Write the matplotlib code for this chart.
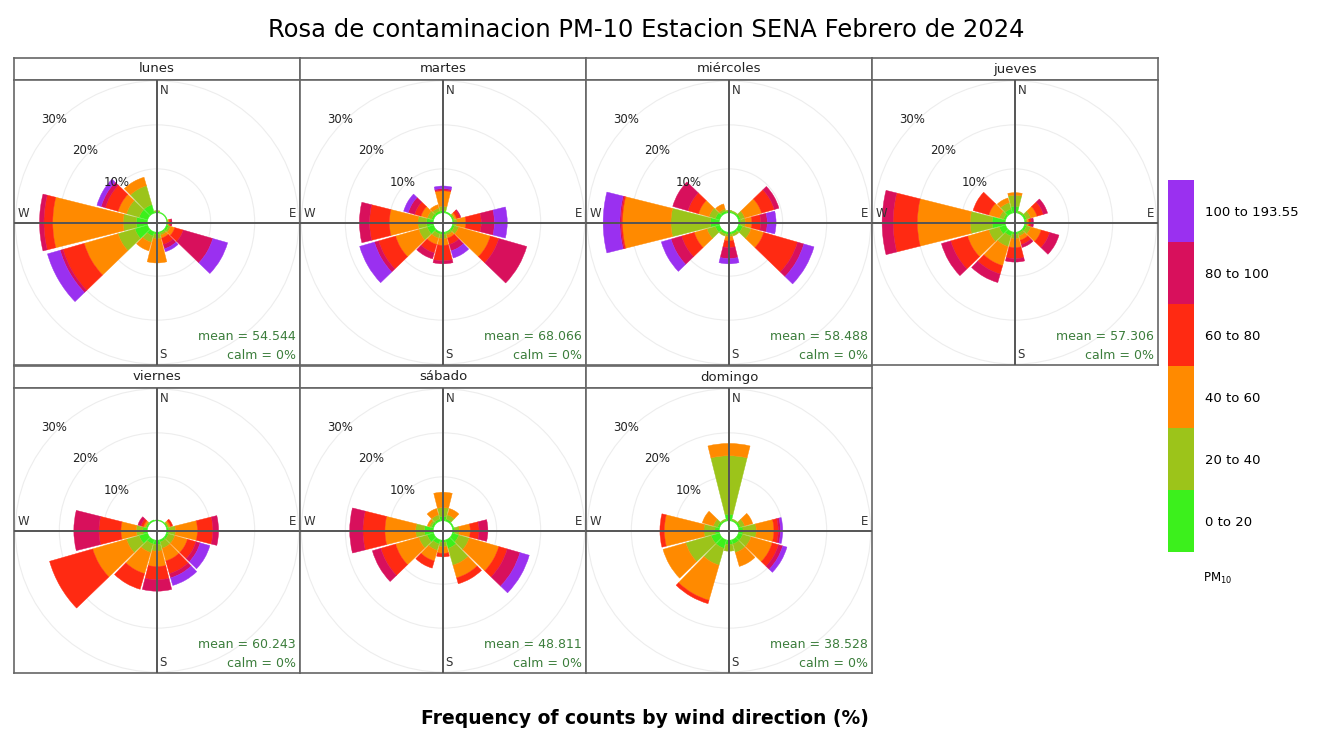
import numpy as np
import matplotlib
matplotlib.use("Agg")
import matplotlib.pyplot as plt
from matplotlib.patches import Wedge, Circle
from matplotlib.colors import ListedColormap, BoundaryNorm
from matplotlib.cm import ScalarMappable

plt.rcParams['font.family'] = ['DejaVu Sans']

titulo = "Rosa de contaminacion PM-10 Estacion SENA Febrero de 2024"
eje_x = "Frequency of counts by wind direction (%)"
dias = ["lunes", "martes", "miércoles", "jueves", "viernes", "sábado", "domingo"]
medias = ["54.544", "68.066", "58.488", "57.306", "60.243", "48.811", "38.528"]
calmas = ["0%", "0%", "0%", "0%", "0%", "0%", "0%"]

# direcciones (grados) y rangos de PM10
sectores = [0, 30, 60, 90, 120, 150, 180, 210, 240, 270, 300, 330]
intervalos = ["0 to 20", "20 to 40", "40 to 60", "60 to 80", "80 to 100", "100 to 193.55"]
colores = ["#3cf01c", "#9cc41a", "#ff8a00", "#ff2a12", "#d8105c", "#9a30f0"]

# frecuencia (%) por sector y rango, filas = sectores
lunes = [
    [0.3, 0.2, 0, 0, 0, 0],
    [0.2, 0, 0, 0, 0, 0],
    [0.2, 0, 0, 0, 0, 0],
    [0.2, 0.2, 0.2, 0.4, 0.2, 0],
    [0.5, 0.5, 1.0, 2.0, 7.0, 3.5],
    [0.3, 0.5, 0.7, 1.5, 1.0, 0.7],
    [0.5, 1.0, 5.5, 0, 0, 0],
    [1.0, 1.5, 2.0, 0, 0, 0],
    [3.0, 4.0, 8.0, 5.0, 0.7, 3.0],
    [2.5, 3.0, 16.0, 2.0, 1.0, 0],
    [2.0, 3.0, 2.0, 3.0, 1.0, 1.0],
    [2.0, 4.5, 2.0, 0, 0, 0],
]
martes = [
    [0.5, 1.0, 3.5, 0.2, 0.3, 0.6],
    [0.3, 0, 0, 0, 0, 0],
    [0.3, 0.3, 0.4, 0.8, 0.2, 0],
    [0.3, 0.7, 2.0, 3.5, 3.0, 2.9],
    [0.5, 1.0, 7.5, 2.0, 6.6, 0],
    [0.3, 0.5, 0.7, 1.5, 1.5, 1.7],
    [0.5, 1.0, 1.5, 3.5, 0.7, 0],
    [0.5, 1.0, 1.5, 2.0, 1.4, 0],
    [1.5, 2.0, 5.5, 4.0, 1.0, 3.5],
    [1.5, 2.0, 6.5, 4.5, 2.3, 0],
    [0.5, 1.0, 1.5, 1.5, 1.5, 1.1],
    [0.5, 0.7, 0.8, 0, 0, 0],
]
miercoles = [
    [0.4, 0.2, 0, 0, 0, 0],
    [0.3, 0.2, 0, 0, 0, 0],
    [0.5, 1.0, 4.0, 3.0, 1.1, 0],
    [0.5, 1.0, 1.5, 2.0, 1.5, 2.0],
    [1.0, 2.0, 3.0, 8.0, 1.5, 2.4],
    [0.5, 0.5, 0, 0, 0, 0],
    [0.5, 0.5, 1.0, 1.5, 2.5, 1.2],
    [0.5, 0.5, 0, 0, 0, 0],
    [1.0, 2.0, 3.0, 3.0, 2.5, 2.3],
    [2.0, 9.0, 11.0, 0.3, 0.3, 3.8],
    [1.0, 1.5, 2.5, 2.5, 3.6, 0],
    [0.5, 0.5, 1.2, 0, 0, 0],
]
jueves = [
    [1.5, 2.5, 0.6, 0, 0, 0],
    [0.3, 0.2, 0, 0, 0, 0],
    [0.5, 1.0, 1.5, 1.5, 1.0, 0],
    [0.3, 0.3, 0.4, 0.5, 0.5, 0],
    [0.5, 1.0, 2.5, 2.0, 2.2, 0],
    [0.3, 0.7, 1.0, 1.0, 0.7, 0],
    [0.5, 1.0, 2.0, 2.5, 0.8, 0],
    [1.0, 2.5, 4.5, 2.0, 2.0, 0],
    [1.5, 2.5, 5.0, 4.0, 2.2, 0],
    [3.0, 5.0, 12.0, 5.5, 2.5, 0],
    [0.5, 1.0, 2.5, 3.7, 0, 0],
    [1.0, 1.5, 1.1, 0, 0, 0],
]
viernes = [
    [0.2, 0, 0, 0, 0, 0],
    [0.2, 0, 0, 0, 0, 0],
    [0.3, 0.3, 0.4, 0.5, 0, 0],
    [0.5, 1.5, 5.0, 3.5, 1.3, 0],
    [0.5, 1.5, 3.0, 2.0, 1.0, 2.3],
    [0.5, 1.5, 3.0, 3.0, 1.0, 1.8],
    [1.0, 1.5, 3.5, 3.0, 2.6, 0],
    [1.0, 2.0, 5.0, 3.7, 0, 0],
    [2.0, 3.0, 8.0, 10.2, 0, 0],
    [1.0, 1.5, 3.5, 5.0, 5.7, 0],
    [0.3, 0.3, 0.4, 0.6, 0.7, 0],
    [0.3, 0, 0, 0, 0, 0],
]
sabado = [
    [1.0, 2.0, 3.5, 0, 0, 0],
    [0.5, 1.0, 1.5, 0, 0, 0],
    [0.3, 0, 0, 0, 0, 0],
    [0.5, 1.0, 2.5, 2.0, 2.0, 0],
    [1.5, 2.5, 7.0, 2.0, 3.0, 2.2],
    [2.0, 4.0, 3.0, 1.4, 0, 0],
    [0.5, 1.0, 1.5, 0.8, 0, 0],
    [1.0, 1.5, 2.5, 1.7, 0, 0],
    [1.5, 2.0, 5.5, 3.5, 2.0, 0],
    [2.0, 2.0, 7.0, 5.0, 3.0, 0],
    [0.5, 0.5, 0.5, 0, 0, 0],
    [0.5, 1.0, 1.5, 0, 0, 0],
]
domingo = [
    [1.5, 13.3, 2.8, 0, 0, 0],
    [0.3, 0.2, 0, 0, 0, 0],
    [0.5, 1.0, 1.9, 0, 0, 0],
    [1.0, 3.0, 4.0, 1.0, 0.5, 0.5],
    [1.0, 2.0, 5.0, 1.5, 1.0, 1.0],
    [1.0, 2.0, 3.3, 0, 0, 0],
    [1.0, 1.5, 0, 0, 0, 0],
    [2.0, 4.0, 8.3, 0.8, 0, 0],
    [2.0, 6.0, 5.4, 0, 0, 0],
    [1.0, 2.5, 9.0, 1.0, 0, 0],
    [0.5, 1.0, 2.6, 0, 0, 0],
    [0.3, 0.2, 0, 0, 0, 0],
]
frecuencias = [lunes, martes, miercoles, jueves, viernes, sabado, domingo]

ANCHO, ALTO = 1320, 731
desfase = 2.2      # hueco central (%)
hueco = 1.0        # separacion entre sectores (grados)
medio = 15.0       # mitad del sector de 30 grados
lim_x, lim_y = 32.5, 32.4
gris = "#666666"


def caja(x, y, w, h):
    """Rectangulo en pixeles (origen arriba a la izquierda) -> fraccion de figura"""
    return [x / ANCHO, 1 - (y + h) / ALTO, w / ANCHO, h / ALTO]


def rosa(ax, datos, media, calma):
    ax.set_xlim(-lim_x, lim_x)
    ax.set_ylim(-lim_y, lim_y)
    ax.set_xticks([])
    ax.set_yticks([])
    for s in ax.spines.values():
        s.set_color(gris)
        s.set_linewidth(1.2)

    for r in [10, 20, 30]:
        ax.add_patch(Circle((0, 0), r + desfase, fill=False, ec="#ededed", lw=0.8, zorder=1))

    for i, ang in enumerate(sectores):
        base = desfase
        t1 = 90 - ang - medio + hueco
        t2 = 90 - ang + medio - hueco
        for j, f in enumerate(datos[i]):
            if f <= 0:
                continue
            ax.add_patch(Wedge((0, 0), base + f, t1, t2, width=f,
                               fc=colores[j], ec=colores[j], lw=0.3, zorder=2))
            base += f

    ax.axhline(0, color="#555555", lw=1.4, zorder=3)
    ax.axvline(0, color="#555555", lw=1.4, zorder=3)

    for v in [10, 20, 30]:
        r = v + desfase + 0.8
        ax.text(-r * np.sin(np.pi / 4), r * np.cos(np.pi / 4), f"{v}%",
                ha="center", va="center", fontsize=8.5, color="#222222", zorder=4)

    ax.text(0.6, lim_y - 0.8, "N", ha="left", va="top", fontsize=8.5, color="#333333")
    ax.text(0.6, -lim_y + 0.8, "S", ha="left", va="bottom", fontsize=8.5, color="#333333")
    ax.text(lim_x - 0.8, 0.6, "E", ha="right", va="bottom", fontsize=8.5, color="#333333")
    ax.text(-lim_x + 0.8, 0.6, "W", ha="left", va="bottom", fontsize=8.5, color="#333333")

    ax.text(0.985, 0.1, f"mean = {media}", transform=ax.transAxes,
            ha="right", va="center", fontsize=9, color="#3b7d3b")
    ax.text(0.985, 0.035, f"calm = {calma}", transform=ax.transAxes,
            ha="right", va="center", fontsize=9, color="#3b7d3b")


fig = plt.figure(figsize=(ANCHO / 100, ALTO / 100), dpi=100)

for k, (dia, datos) in enumerate(zip(dias, frecuencias)):
    fila, col = divmod(k, 4)
    x0 = 14 + 286 * col
    y0 = 58 + 308 * fila

    tira = fig.add_axes(caja(x0, y0, 286, 22))
    tira.set_xticks([])
    tira.set_yticks([])
    for s in tira.spines.values():
        s.set_color(gris)
        s.set_linewidth(1.2)
    tira.text(0.5, 0.5, dia, ha="center", va="center", fontsize=9.5, color="#222222")

    ax = fig.add_axes(caja(x0, y0 + 22, 286, 285))
    rosa(ax, datos, medias[k], calmas[k])

# barra de colores
cax = fig.add_axes(caja(1168, 180, 26, 372))
cmap = ListedColormap(colores)
norm = BoundaryNorm(np.arange(len(colores) + 1), len(colores))
cb = fig.colorbar(ScalarMappable(norm=norm, cmap=cmap), cax=cax,
                  ticks=np.arange(len(colores)) + 0.5)
cb.set_ticklabels(intervalos)
cb.outline.set_visible(False)
cax.minorticks_off()
cax.tick_params(which="both", length=0, labelsize=9.5, pad=8)
fig.text(1203 / ANCHO, 1 - 578 / ALTO, "PM$_{10}$", ha="left", va="center", fontsize=8.5)

fig.text(646 / ANCHO, 1 - 30 / ALTO, titulo, ha="center", va="center", fontsize=17.5)
fig.text(645 / ANCHO, 1 - 718 / ALTO, eje_x, ha="center", va="center",
         fontsize=13.5, fontweight="bold")

fig.savefig("out.png", dpi=100)
